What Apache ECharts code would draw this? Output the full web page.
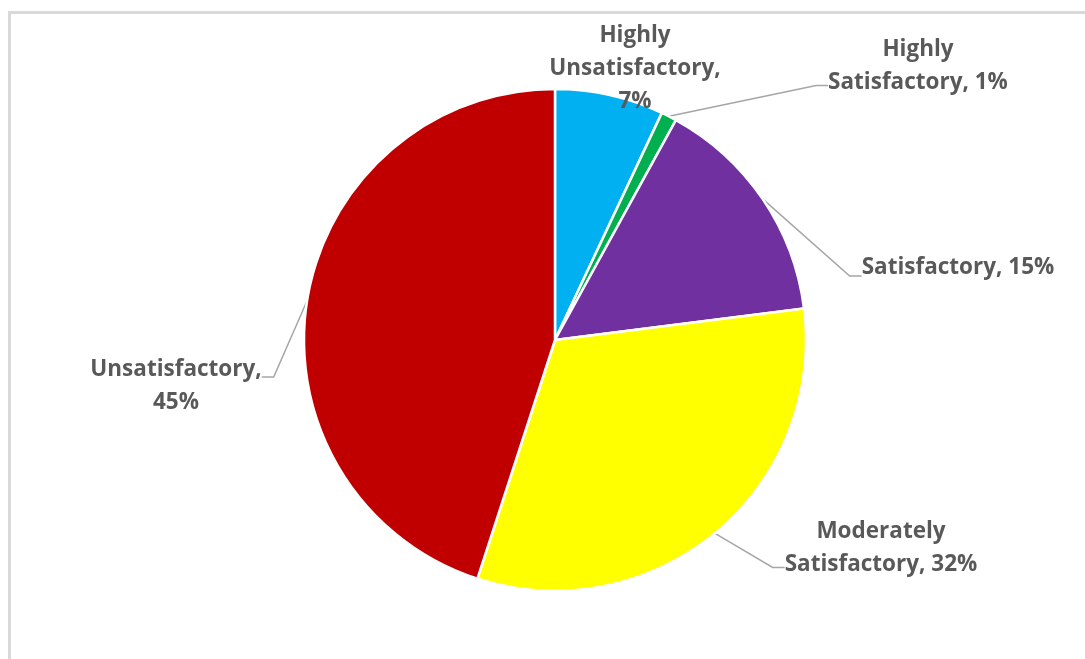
<!DOCTYPE html>
<html>
<head>
<meta charset="utf-8">
<script src="https://cdn.jsdelivr.net/npm/echarts@6/dist/echarts.min.js"></script>
<style>
  html, body { margin: 0; padding: 0; background: #fff; }
  #chart { width: 1085px; height: 659px; }
</style>
</head>
<body>
<div id="chart"></div>
<script>
// 饼图数据
const categories = ['Highly Unsatisfactory', 'Highly Satisfactory', 'Satisfactory', 'Moderately Satisfactory', 'Unsatisfactory'];
const values = [7, 1, 15, 32, 45];
const colors = ['#00B0F0', '#00B050', '#7030A0', '#FFFF00', '#C00000'];
// 标签文字（保留原图的换行）
const labelLines = [
  ['Highly', 'Unsatisfactory,', '7%'],
  ['Highly', 'Satisfactory, 1%'],
  ['Satisfactory, 15%'],
  ['Moderately', 'Satisfactory, 32%'],
  ['Unsatisfactory,', '45%']
];

// 标签位置（按原图手动摆放）；spacer 是空行高度，用来把引导线挪到文字底部附近
const labelSpots = [
  { x: 635, y: 69, spacer: null },
  { x: 918, y: 94.5, spacer: 'bottom' },
  { x: 958, y: 274, spacer: 'small' },
  { x: 881, y: 576.5, spacer: 'bottom' },
  { x: 176, y: 378, spacer: 'top' }
];

function buildLabel(i) {
  const body = labelLines[i].map(t => '{t|' + t + '}').join('\n');
  const sp = labelSpots[i].spacer;
  if (sp === 'bottom') return body + '\n{spB| }';
  if (sp === 'small') return body + '\n{spS| }';
  if (sp === 'top') return '{spT| }\n' + body;
  return body;
}

const chart = echarts.init(document.getElementById('chart'), null, { renderer: 'canvas' });

const textStyle = {
  color: '#595959',
  fontFamily: 'Open Sans',
  fontWeight: 'bold',
  fontSize: 22.5,
  lineHeight: 33,
  align: 'center'
};

const option = {
  backgroundColor: '#ffffff',
  animation: false,
  graphic: [{
    type: 'rect',
    shape: { x: 9.5, y: 12.5, width: 1200, height: 800 },
    style: { fill: 'none', stroke: '#d9d9d9', lineWidth: 3 },
    silent: true
  }],
  series: [{
    type: 'pie',
    center: [555, 340],
    radius: 251,
    startAngle: 90,
    clockwise: true,
    itemStyle: { borderColor: '#ffffff', borderWidth: 2.5 },
    label: {
      show: true,
      align: 'center',
      formatter: (p) => buildLabel(p.dataIndex),
      rich: {
        t: textStyle,
        spB: { fontSize: 10, lineHeight: 56 },
        spS: { fontSize: 10, lineHeight: 12 },
        spT: { fontSize: 10, lineHeight: 16 }
      }
    },
    labelLine: {
      show: true,
      lineStyle: { color: '#a6a6a6', width: 1.5 },
      length: 20,
      length2: 12
    },
    labelLayout: (params) => {
      const s = labelSpots[params.dataIndex];
      return { x: s.x, y: s.y, align: 'center', verticalAlign: 'middle' };
    },
    data: categories.map((name, i) => ({
      name: name,
      value: values[i],
      itemStyle: { color: colors[i] },
      labelLine: { show: i !== 0 }
    }))
  }]
};

chart.setOption(option);
</script>
</body>
</html>
